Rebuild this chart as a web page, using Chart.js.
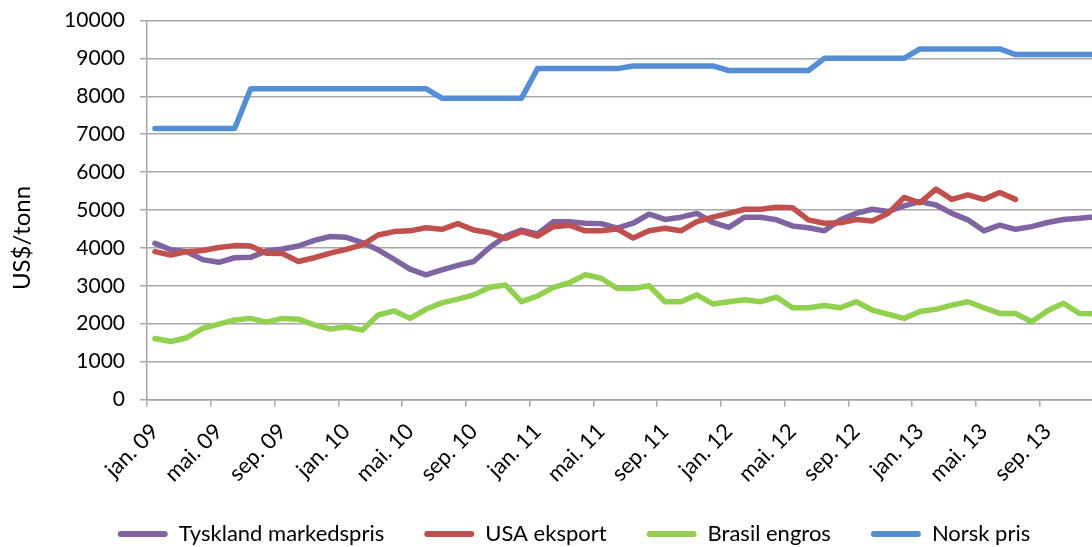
<!DOCTYPE html>
<html>
<head>
<meta charset="utf-8">
<script src="https://cdn.jsdelivr.net/npm/chart.js@4/dist/chart.umd.min.js"></script>
<style>
  html, body { margin: 0; padding: 0; background: #fff; }
  #frame { width: 1092px; height: 547px; overflow: hidden; position: relative; }
  #wrap { width: 1126px; height: 555px; position: absolute; left: 0; top: 0; }
</style>
</head>
<body>
<div id="frame"><div id="wrap"><canvas id="chart"></canvas></div></div>
<script>
// months jan.09 - des.13
const months = [
  'jan. 09', 'feb. 09', 'mar. 09', 'apr. 09', 'mai. 09', 'jun. 09', 'jul. 09', 'aug. 09', 'sep. 09', 'okt. 09', 'nov. 09', 'des. 09',
  'jan. 10', 'feb. 10', 'mar. 10', 'apr. 10', 'mai. 10', 'jun. 10', 'jul. 10', 'aug. 10', 'sep. 10', 'okt. 10', 'nov. 10', 'des. 10',
  'jan. 11', 'feb. 11', 'mar. 11', 'apr. 11', 'mai. 11', 'jun. 11', 'jul. 11', 'aug. 11', 'sep. 11', 'okt. 11', 'nov. 11', 'des. 11',
  'jan. 12', 'feb. 12', 'mar. 12', 'apr. 12', 'mai. 12', 'jun. 12', 'jul. 12', 'aug. 12', 'sep. 12', 'okt. 12', 'nov. 12', 'des. 12',
  'jan. 13', 'feb. 13', 'mar. 13', 'apr. 13', 'mai. 13', 'jun. 13', 'jul. 13', 'aug. 13', 'sep. 13', 'okt. 13', 'nov. 13', 'des. 13'
]

const tyskland = [
  4120, 3950, 3900, 3690, 3620, 3740, 3750, 3920, 3970, 4050, 4200, 4300,
  4280, 4140, 3950, 3700, 3440, 3290, 3420, 3540, 3640, 4010, 4310, 4470,
  4370, 4690, 4690, 4650, 4640, 4520, 4650, 4890, 4750, 4810, 4910, 4670,
  4540, 4810, 4810, 4740, 4580, 4530, 4450, 4740, 4910, 5020, 4960, 5110,
  5220, 5130, 4910, 4740, 4450, 4600, 4490, 4560, 4670, 4750, 4780, 4820
]

const usa = [
  3900, 3810, 3900, 3930, 4010, 4060, 4050, 3860, 3850, 3640, 3740, 3860,
  3960, 4080, 4340, 4430, 4450, 4530, 4490, 4640, 4470, 4400, 4250, 4430,
  4310, 4560, 4600, 4450, 4450, 4500, 4260, 4450, 4520, 4450, 4690, 4810,
  4910, 5020, 5020, 5070, 5060, 4740, 4650, 4660, 4750, 4710, 4910, 5330,
  5190, 5550, 5280, 5400, 5280, 5460, 5280, null, null, null, null, null
]

const brasil = [
  1610, 1530, 1630, 1880, 1990, 2100, 2140, 2040, 2140, 2120, 1970, 1860,
  1920, 1830, 2230, 2340, 2140, 2380, 2550, 2650, 2760, 2960, 3020, 2580,
  2730, 2960, 3080, 3290, 3200, 2930, 2930, 3000, 2580, 2580, 2760, 2520,
  2580, 2630, 2580, 2700, 2420, 2420, 2480, 2420, 2580, 2360, 2250, 2140,
  2320, 2380, 2490, 2580, 2420, 2270, 2270, 2050, 2340, 2540, 2270, 2260
]

const norsk = [
  7150, 7150, 7150, 7150, 7150, 7150, 8200, 8200, 8200, 8200, 8200, 8200,
  8200, 8200, 8200, 8200, 8200, 8200, 7950, 7950, 7950, 7950, 7950, 7950,
  8730, 8730, 8730, 8730, 8730, 8730, 8800, 8800, 8800, 8800, 8800, 8800,
  8680, 8680, 8680, 8680, 8680, 8680, 9000, 9000, 9000, 9000, 9000, 9000,
  9250, 9250, 9250, 9250, 9250, 9250, 9100, 9100, 9100, 9100, 9100, 9100
]

const seriesNames = ['Tyskland markedspris', 'USA eksport', 'Brasil engros', 'Norsk pris']
const seriesColors = ['#8064a2', '#c0504d', '#92d050', '#558ed5']
const yTicks = { min: 0, max: 10000, step: 1000 }

const gridColor = '#a6a6a6'
const font = { family: 'Lato', size: 22 }
// small lineHeight keeps chart.js from reserving extra room above the top tick
const yFont = { family: 'Lato', size: 21, lineHeight: 0.52 }

const makeSet = (i, data, order) => ({
  label: seriesNames[i],
  data: data,
  borderColor: seriesColors[i],
  backgroundColor: seriesColors[i],
  borderWidth: 5.5,
  pointRadius: 0,
  tension: 0,
  borderCapStyle: 'round',
  borderJoinStyle: 'round',
  spanGaps: false,
  order: order,
})

// y axis title drawn by hand so it can sit a bit below the middle like the original
const yTitle = {
  id: 'yTitle',
  afterDraw(chart) {
    const ctx = chart.ctx
    ctx.save()
    ctx.translate(22, 238)
    ctx.rotate(-Math.PI / 2)
    ctx.font = '24px Lato'
    ctx.fillStyle = '#000'
    ctx.textAlign = 'center'
    ctx.textBaseline = 'middle'
    ctx.fillText('US$/tonn', 0, 0)
    ctx.restore()
  }
}

const defaultLabels = Chart.defaults.plugins.legend.labels.generateLabels

new Chart(document.getElementById('chart'), {
  type: 'line',
  data: {
    labels: months,
    datasets: [
      makeSet(0, tyskland, 3),
      makeSet(1, usa, 2),
      makeSet(2, brasil, 1),
      makeSet(3, norsk, 0),
    ]
  },
  options: {
    responsive: true,
    maintainAspectRatio: false,
    animation: false,
    layout: { padding: { left: 22, right: 0, top: 0, bottom: 0 } },
    scales: {
      x: {
        type: 'category',
        offset: true,
        grid: {
          drawOnChartArea: false,
          offset: true,
          tickLength: 7,
          lineWidth: 1.5,
          color: (ctx) => ctx.index % 4 === 0 ? gridColor : 'rgba(0,0,0,0)',
        },
        border: { color: gridColor, width: 1.5 },
        ticks: {
          autoSkip: false,
          minRotation: 45,
          maxRotation: 45,
          padding: 12,
          font: font,
          color: '#000',
          callback: (val, idx) => idx % 4 === 0 ? months[idx] : '',
        },
        afterFit: (scale) => { scale.height = 83.5 },
      },
      y: {
        min: yTicks.min,
        max: yTicks.max,
        ticks: { stepSize: yTicks.step, padding: 15, font: yFont, color: '#000', callback: (v) => String(v) },
        grid: { color: gridColor, lineWidth: 1.5, tickLength: 7 },
        border: { color: gridColor, width: 1.5 },
        afterFit: (scale) => { scale.width = 125 },
      }
    },
    plugins: {
      tooltip: { enabled: false },
      legend: {
        position: 'bottom',
        labels: {
          font: font,
          color: '#000',
          boxWidth: 50,
          boxHeight: 6,
          padding: 40,
          useBorderRadius: true,
          borderRadius: 3,
          sort: (a, b) => a.datasetIndex - b.datasetIndex,
          generateLabels: (chart) => defaultLabels(chart).map(l => ({ ...l, fillStyle: l.strokeStyle, lineWidth: 0 })),
        }
      }
    }
  },
  plugins: [yTitle]
})
</script>
</body>
</html>
